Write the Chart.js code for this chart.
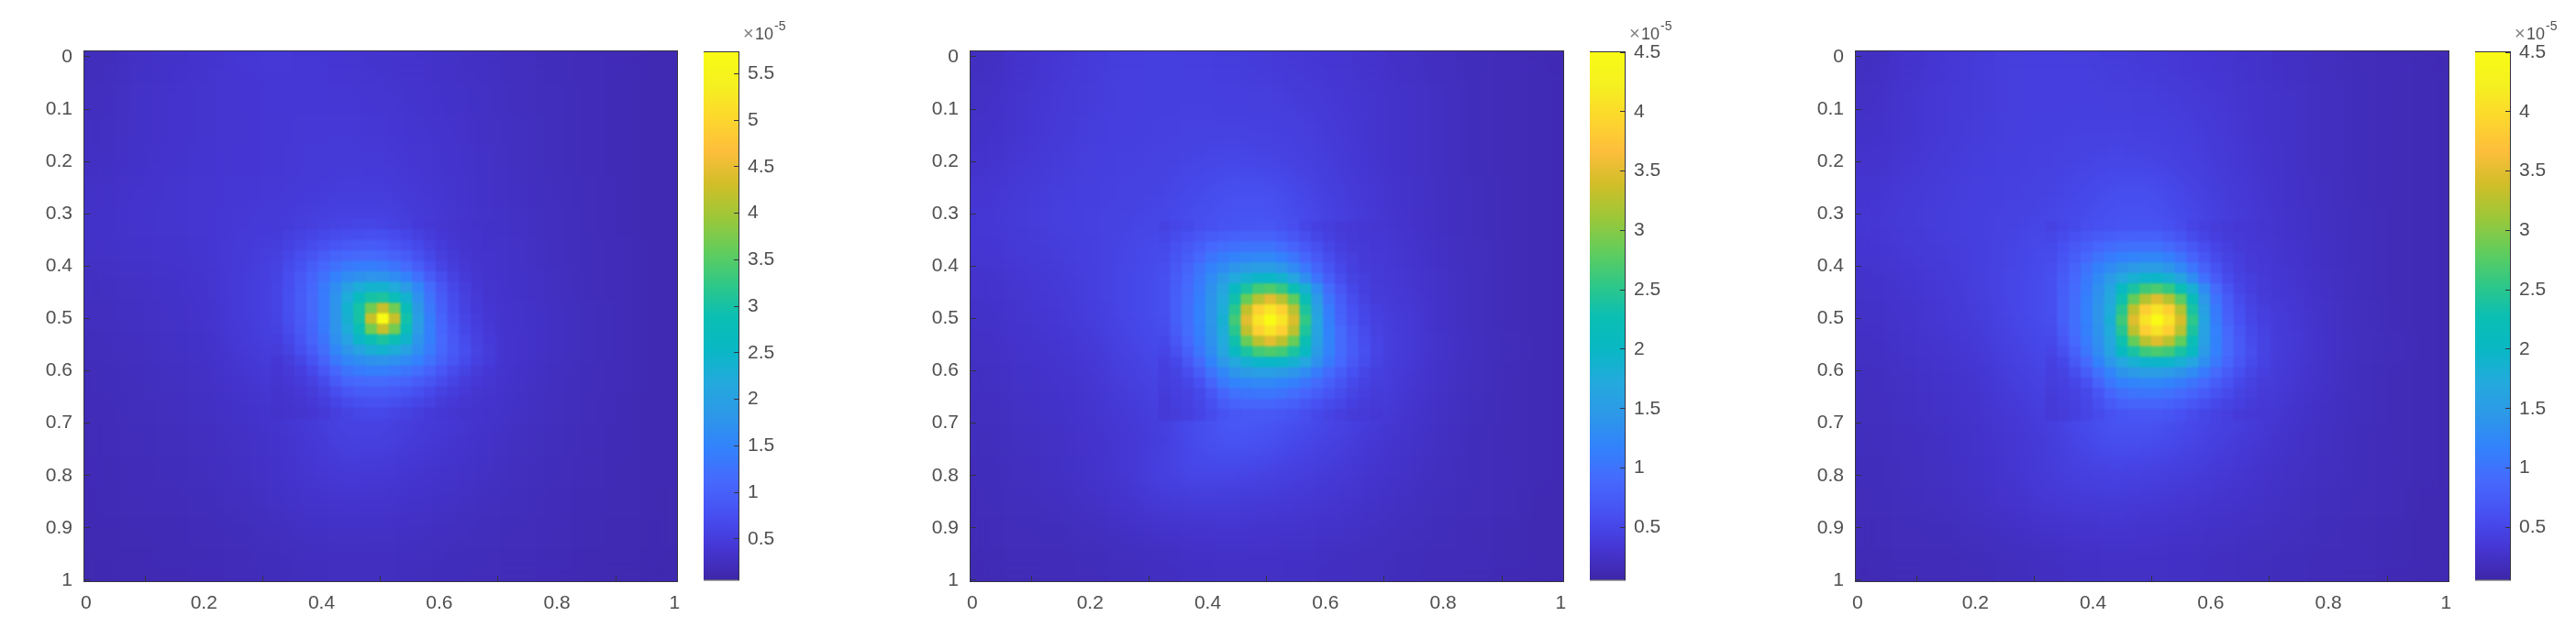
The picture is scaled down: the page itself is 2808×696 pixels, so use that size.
<!DOCTYPE html>
<html>
<head>
<meta charset="utf-8">
<style>
  body { margin: 0; background: #fff; }
  canvas { position: absolute; }
</style>
<script src="https://cdn.jsdelivr.net/npm/chart.js@4"></script>
</head>
<body>
<script>
const xTicks = [0, 0.2, 0.4, 0.6, 0.8, 1];
const yTicks = [0, 0.1, 0.2, 0.3, 0.4, 0.5, 0.6, 0.7, 0.8, 0.9, 1];
const barTicks1 = [0.5, 1, 1.5, 2, 2.5, 3, 3.5, 4, 4.5, 5, 5.5];
const barTicks2 = [0.5, 1, 1.5, 2, 2.5, 3, 3.5, 4, 4.5];

// values below are read off the picture, in units of 1e-7
// far field, 17 x 17 coarse cells
const far1 = [
  [22,28,32,36,41,43,42,39,36,34,30,27,24,21,19,17,15],
  [24,30,34,37,40,42,42,41,39,36,32,28,25,22,19,17,15],
  [26,30,34,37,39,41,43,43,41,38,34,29,26,22,19,17,15],
  [27,31,35,38,40,41,44,45,44,40,36,30,26,22,19,17,15],
  [30,34,37,39,41,43,46,49,49,43,37,31,27,23,20,17,15],
  [32,35,37,39,43,46,52,58,58,48,40,33,28,24,20,17,15],
  [30,33,35,38,45,52,60,70,70,56,42,35,30,25,21,18,15],
  [26,29,32,36,46,56,70,90,90,70,48,36,31,26,21,18,15],
  [24,27,30,34,46,56,80,100,100,80,52,40,33,27,22,18,15],
  [22,25,28,31,43,52,70,90,90,75,52,42,34,27,22,18,15],
  [20,23,26,29,36,44,56,70,70,60,48,40,31,25,21,18,15],
  [19,22,24,27,31,38,48,60,60,50,44,36,28,24,20,17,15],
  [18,20,22,25,29,33,42,54,54,46,38,31,26,22,19,17,15],
  [17,19,21,23,27,32,39,44,43,38,33,28,24,21,18,16,15],
  [16,18,19,21,24,28,33,36,35,32,28,25,22,19,17,16,14],
  [15,16,17,19,21,24,27,29,29,27,25,22,20,18,16,15,14],
  [14,15,16,17,19,21,23,24,24,23,21,20,18,17,15,14,13]
];
const far2 = [
  [22,28,33,38,42,43,42,40,38,35,32,28,24,21,18,16,14],
  [24,30,35,39,42,43,43,42,41,38,34,30,26,22,18,16,14],
  [26,31,36,40,42,44,45,45,44,41,36,30,26,22,18,16,14],
  [28,33,38,41,44,45,48,50,48,44,38,31,26,22,18,16,14],
  [32,37,40,43,45,47,54,60,60,50,40,33,27,22,19,16,14],
  [34,38,41,44,47,50,58,66,66,56,44,35,28,23,19,16,14],
  [32,36,39,43,49,56,70,80,80,65,46,37,30,24,20,16,14],
  [28,32,36,42,50,58,85,100,100,80,50,38,32,25,20,16,14],
  [26,30,34,40,50,58,90,110,110,85,54,44,36,26,20,16,14],
  [24,28,31,36,46,54,85,100,100,85,58,46,37,27,21,17,14],
  [22,25,28,32,41,48,70,85,85,70,56,46,34,25,20,16,14],
  [20,24,26,30,36,43,58,74,74,62,50,42,30,24,19,16,14],
  [19,22,24,28,33,40,56,66,62,52,44,34,27,22,18,16,14],
  [18,20,23,27,33,44,52,50,47,42,36,30,25,21,18,15,14],
  [17,19,21,24,29,36,38,38,36,33,30,26,22,19,17,15,13],
  [15,17,18,20,23,26,28,29,28,27,25,22,20,18,16,14,13],
  [14,15,16,17,19,21,23,24,24,23,21,20,18,16,15,14,13]
];
const far3 = [
  [22,28,33,38,41,42,41,39,37,34,31,27,23,20,17,16,14],
  [24,30,35,38,41,42,42,41,40,37,33,29,25,21,18,16,14],
  [26,30,35,39,41,43,44,44,43,40,35,29,25,21,18,16,14],
  [28,32,37,40,43,44,47,49,47,43,37,30,25,21,18,16,14],
  [31,36,39,42,44,46,52,58,58,48,39,32,26,22,18,16,14],
  [33,37,40,43,46,49,56,64,64,54,42,34,27,22,19,16,14],
  [31,35,38,42,48,55,68,78,78,62,44,35,29,23,19,16,14],
  [27,31,35,41,49,57,82,98,98,76,48,37,31,24,19,16,14],
  [25,29,33,39,49,57,88,108,108,82,52,42,35,25,20,16,14],
  [23,27,30,35,45,53,82,98,98,80,56,44,36,26,20,17,14],
  [21,24,27,31,40,47,68,82,82,66,52,44,33,25,19,16,14],
  [20,23,25,29,35,42,56,70,70,58,47,40,29,23,19,16,14],
  [19,21,23,27,32,38,50,60,58,50,42,33,26,22,18,16,14],
  [18,20,22,26,31,38,44,46,44,40,35,29,24,21,18,15,14],
  [17,19,21,24,28,33,36,37,35,32,29,25,22,19,17,15,13],
  [15,17,18,20,23,26,28,29,28,26,24,22,20,18,16,14,13],
  [14,15,16,17,19,21,23,24,24,23,21,19,18,16,15,14,13]
];

// centre of each panel, 19 x 19 fine cells
const core1 = [
  [44,47,50,53,56,58,60,61,62,60,56,51,46,42,39,37,35,33,31],
  [47,51,56,60,65,69,72,74,75,74,69,62,54,47,42,38,36,34,32],
  [50,56,62,70,78,84,88,91,92,90,84,76,66,56,47,41,37,35,33],
  [54,62,72,82,94,104,110,112,114,110,103,92,78,64,53,45,39,36,34],
  [56,68,80,96,110,124,136,140,142,138,128,114,96,76,60,49,41,37,35],
  [58,72,88,104,124,146,164,172,176,175,166,148,122,94,72,56,45,39,36],
  [60,74,90,110,136,165,200,226,240,238,222,192,156,116,85,64,50,41,37],
  [60,76,92,112,138,175,225,270,300,305,278,240,172,126,92,70,54,44,38],
  [60,75,92,112,138,178,240,300,370,425,368,276,186,134,98,74,57,46,40],
  [58,74,90,110,138,178,235,300,425,580,425,296,195,140,104,78,60,49,41],
  [56,70,88,108,136,176,225,285,368,425,370,280,192,142,108,84,64,52,43],
  [52,64,82,104,130,170,205,250,285,305,285,245,180,144,112,88,70,55,46],
  [48,58,74,94,120,156,180,205,230,240,226,200,168,138,110,90,72,58,48],
  [42,50,62,80,104,134,156,166,174,176,172,162,146,124,102,84,68,55,47],
  [40,45,52,66,86,110,130,138,142,142,138,130,118,102,86,70,58,48,42],
  [38,42,47,55,70,90,106,112,114,114,110,104,94,82,70,58,49,43,39],
  [36,39,43,48,58,72,86,92,94,94,90,84,76,66,56,49,43,39,37],
  [35,37,39,43,50,60,70,76,78,78,74,68,62,55,48,43,39,37,35],
  [33,35,37,40,44,51,58,62,64,64,60,56,50,46,42,39,36,34,33]
];
const core2 = [
  [46,50,54,58,62,65,66,67,68,68,64,58,50,44,40,37,35,33,32],
  [50,56,62,68,74,78,80,81,82,82,76,68,58,50,44,39,36,34,33],
  [54,62,70,78,88,94,98,100,100,100,94,84,72,60,50,43,38,36,34],
  [56,66,76,88,102,112,118,122,124,124,116,104,86,70,57,47,41,37,35],
  [58,70,84,100,116,130,142,150,154,154,144,128,106,84,66,52,43,38,36],
  [60,74,88,106,128,150,172,186,196,198,188,166,134,100,76,58,47,41,37],
  [60,76,92,110,136,165,205,240,265,272,258,226,186,132,92,68,52,43,38],
  [60,78,94,114,140,172,232,285,325,350,325,280,220,148,102,76,57,46,39],
  [60,78,96,116,142,178,250,330,388,410,388,325,240,158,110,80,62,50,42],
  [58,78,96,116,142,185,265,350,410,455,410,345,255,165,114,84,65,52,44],
  [56,74,94,114,140,178,250,330,388,410,388,328,242,162,118,90,70,56,46],
  [52,68,88,110,136,172,232,285,328,350,328,285,226,158,120,92,74,58,48],
  [48,60,80,104,130,165,205,240,265,272,265,240,205,150,118,92,74,60,48],
  [44,52,70,92,118,145,170,186,196,198,196,186,168,136,108,88,70,57,47],
  [42,47,58,76,100,122,142,150,154,154,150,142,130,110,92,76,62,50,43],
  [40,44,50,62,84,106,118,122,124,124,120,114,104,92,78,66,54,46,40],
  [38,42,46,54,68,86,98,102,104,104,100,94,86,76,66,57,48,42,38],
  [37,40,44,50,60,74,82,86,86,86,82,78,70,62,55,49,43,39,36],
  [36,39,43,48,56,64,68,70,70,70,68,64,58,52,47,42,38,36,34]
];
const core3 = [
  [46,50,54,58,62,64,65,66,66,66,62,56,48,43,39,36,34,33,31],
  [50,56,62,68,73,77,79,80,80,80,74,66,56,48,42,38,36,34,32],
  [54,62,70,78,87,93,97,98,98,98,92,82,70,58,48,42,37,35,33],
  [56,66,76,88,101,110,116,120,122,122,114,102,84,68,55,46,40,36,34],
  [58,70,84,100,115,128,140,148,152,152,142,126,104,82,64,50,42,37,35],
  [60,74,88,106,127,148,170,184,194,196,186,164,132,98,74,56,46,40,36],
  [60,76,92,110,135,163,203,238,263,270,256,224,184,130,90,66,50,42,37],
  [60,78,94,114,139,170,230,283,323,348,323,278,218,146,100,74,55,45,38],
  [60,78,96,116,141,176,248,328,386,408,386,322,238,156,108,78,60,48,41],
  [58,78,96,116,141,183,263,348,408,455,408,342,252,163,112,82,63,50,43],
  [56,74,94,114,139,176,248,328,386,408,386,325,240,160,116,88,68,54,45],
  [52,68,88,110,135,170,230,283,326,348,326,282,224,156,118,90,72,56,47],
  [48,60,80,104,129,163,203,238,263,270,263,238,203,148,116,90,72,58,47],
  [44,52,70,92,117,143,168,184,194,196,194,184,166,134,106,86,68,55,46],
  [42,47,58,76,99,120,140,148,152,152,148,140,128,108,90,74,60,49,42],
  [40,44,50,62,83,104,116,120,122,122,118,112,102,90,76,64,52,45,39],
  [38,42,46,54,67,85,96,100,102,102,98,92,84,74,64,55,47,41,37],
  [37,40,44,50,60,73,80,84,84,84,80,76,68,60,53,47,42,38,35],
  [36,39,43,48,56,63,66,68,68,68,66,62,56,50,45,41,37,35,33]
];

// parula colormap stops
const parula = [
  [62,38,168],[69,55,213],[71,80,242],[70,105,252],[50,130,252],[45,152,232],[35,170,221],
  [8,184,196],[11,191,178],[49,200,133],[100,205,90],[157,199,56],[209,190,40],[253,190,60],
  [253,215,45],[245,240,32],[249,251,21]
];
const textColor = '#4f4f4f';
const fontName = '"Liberation Sans", Arial, sans-serif';
const xMin = -0.003, xMax = 1.004, yMin = -0.0105, yMax = 1.0018;

function colorAt(t) {
  t = Math.min(1, Math.max(0, t)) * (parula.length - 1);
  const i = Math.min(parula.length - 2, Math.floor(t));
  const f = t - i;
  const c = parula[i].map((a, k) => Math.round(a + (parula[i + 1][k] - a) * f));
  return 'rgb(' + c.join(',') + ')';
}

function farCells(grid) {
  const out = [];
  const n = grid.length;
  grid.forEach((row, r) => row.forEach((v, c) => {
    const h = (yMax - yMin) / n;
    out.push({
      x: xMin + (c + 0.5) * (xMax - xMin) / n,
      y: [yMin + r * h, yMin + (r + 1) * h],
      v: v
    });
  }));
  return out;
}

function coreCells(grid, cx, cy) {
  const out = [];
  grid.forEach((row, r) => row.forEach((v, c) => {
    const yc = cy + (r - 9) * 0.02;
    out.push({ x: cx + (c - 9) * 0.02, y: [yc - 0.01, yc + 0.01], v: v });
  }));
  return out;
}

// repaint the plot area through a blur, the far cells are coarse
const softenPlugin = {
  id: 'soften',
  afterDatasetDraw(chart, args) {
    if (args.index === 1) soften(chart, 14);
  },
  afterDatasetsDraw(chart) {
    soften(chart, 1.1);
  }
};

function soften(chart, px) {
  const ctx = chart.ctx;
  const a = chart.chartArea;
  const w = a.right - a.left, h = a.bottom - a.top;
  ctx.save();
  ctx.beginPath();
  ctx.rect(a.left, a.top, w, h);
  ctx.clip();
  ctx.filter = 'blur(' + px + 'px)';
  ctx.drawImage(ctx.canvas, a.left, a.top, w, h, a.left, a.top, w, h);
  ctx.restore();
}

const framePlugin = {
  id: 'frame',
  afterDraw(chart) {
    const a = chart.chartArea;
    const ctx = chart.ctx;
    ctx.save();
    ctx.strokeStyle = '#33323f';
    ctx.lineWidth = 1;
    ctx.strokeRect(a.left - 0.5, a.top - 0.5, a.right - a.left + 1, a.bottom - a.top + 1);
    ctx.restore();
  }
};

function addCanvas(left, top, w, h) {
  const cv = document.createElement('canvas');
  cv.width = w;
  cv.height = h;
  cv.style.left = left + 'px';
  cv.style.top = top + 'px';
  document.body.appendChild(cv);
  return cv.getContext('2d');
}

function heatChart(plotLeft, far, core, cx, cy, lo, hi) {
  const shade = c => colorAt((c.raw.v / 100 - lo) / (hi - lo));
  const ctx = addCanvas(plotLeft - 70, 16, 746, 678);
  new Chart(ctx, {
    type: 'bar',
    data: {
      datasets: [
        { data: coreCells(core, cx, cy), barThickness: 13, backgroundColor: shade, inflateAmount: 0.6, grouped: false },
        { data: farCells(far), barThickness: 39, backgroundColor: shade, inflateAmount: 0.6, grouped: false }
      ]
    },
    plugins: [softenPlugin, framePlugin],
    options: {
      responsive: false,
      animation: false,
      layout: { padding: { left: 10, top: 40, right: 30, bottom: 20 } },
      plugins: { legend: { display: false }, tooltip: { enabled: false } },
      scales: {
        x: {
          type: 'linear',
          offset: false,
          min: xMin,
          max: xMax,
          afterBuildTicks: s => { s.ticks = xTicks.map(v => ({ value: v })); },
          afterFit: s => { s.height = 40; },
          border: { display: false },
          grid: { drawOnChartArea: false, tickLength: -6, tickColor: '#33323f', z: 1 },
          ticks: { autoSkip: false, maxRotation: 0, padding: 18, color: textColor, font: { family: fontName, size: 21 }, callback: v => String(v) }
        },
        y: {
          type: 'linear',
          reverse: true,
          min: yMin,
          max: yMax,
          afterBuildTicks: s => { s.ticks = yTicks.map(v => ({ value: v })); },
          afterFit: s => { s.width = 60; },
          border: { display: false },
          grid: { drawOnChartArea: false, tickLength: -6, tickColor: '#33323f', z: 1 },
          ticks: { autoSkip: false, padding: 19, color: textColor, font: { family: fontName, size: 21 }, callback: v => String(v) }
        }
      }
    }
  });
}

function barChart(barLeft, ticks, lo, hi) {
  const ctx = addCanvas(barLeft, 0, 110, 660);
  const exponent = {
    id: 'exponent',
    afterDraw(chart) {
      const c = chart.ctx;
      const x = chart.chartArea.right;
      c.save();
      c.textBaseline = 'alphabetic';
      c.font = '20px ' + fontName;
      c.fillStyle = '#808080';
      c.fillText('\u00d7', x + 5, 43);
      c.fillStyle = textColor;
      c.font = '18px ' + fontName;
      c.fillText('10', x + 18, 43);
      c.font = '14px ' + fontName;
      c.fillText('-5', x + 39, 33);
      c.restore();
    }
  };
  new Chart(ctx, {
    type: 'bar',
    data: {
      labels: [''],
      datasets: [{
        data: [[lo, hi]],
        barPercentage: 1,
        categoryPercentage: 1,
        inflateAmount: 0.5,
        backgroundColor: c => {
          const a = c.chart.chartArea;
          if (!a) return parula[0];
          const g = c.chart.ctx.createLinearGradient(0, a.bottom, 0, a.top);
          parula.forEach((p, i) => g.addColorStop(i / (parula.length - 1), 'rgb(' + p.join(',') + ')'));
          return g;
        }
      }]
    },
    plugins: [framePlugin, exponent],
    options: {
      responsive: false,
      animation: false,
      layout: { padding: { left: 0, top: 57, right: 0, bottom: 26 } },
      plugins: { legend: { display: false }, tooltip: { enabled: false } },
      scales: {
        x: { display: false },
        y: {
          position: 'right',
          min: lo,
          max: hi,
          afterBuildTicks: s => { s.ticks = ticks.map(v => ({ value: v })); },
          afterFit: s => { s.width = 72; },
          border: { display: false },
          grid: { drawOnChartArea: false, tickLength: -5, tickColor: '#33323f', z: 1 },
          ticks: { autoSkip: false, padding: 15, color: textColor, font: { family: fontName, size: 21 }, callback: v => String(v) }
        }
      }
    }
  });
}

heatChart(92, far1, core1, 0.505, 0.501, 0.06, 5.73);
heatChart(1058, far2, core2, 0.507, 0.504, 0.06, 4.5);
heatChart(2023, far3, core3, 0.51, 0.504, 0.06, 4.5);

barChart(767, barTicks1, 0.06, 5.73);
barChart(1733, barTicks2, 0.06, 4.5);
barChart(2698, barTicks2, 0.06, 4.5);
</script>
</body>
</html>
